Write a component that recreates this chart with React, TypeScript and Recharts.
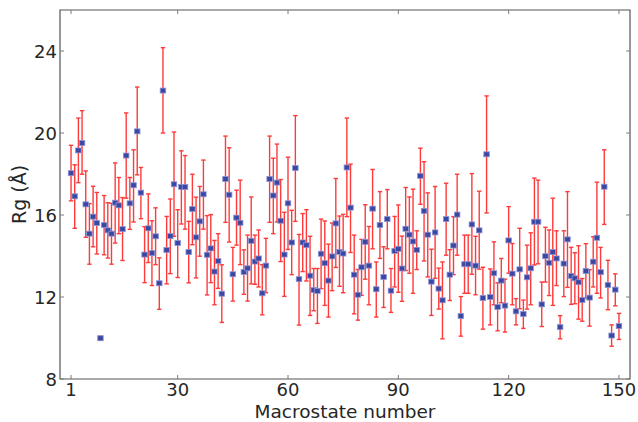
import { ScatterChart, Scatter, XAxis, YAxis, ErrorBar, ReferenceArea } from 'recharts'

// Rg per macrostate with the upper / lower ends of each error bar
const rg = [
  18.04, 16.91, 19.15, 19.51, 16.52, 15.09, 15.92, 15.61, 9.99, 15.51,
  15.25, 15.09, 16.6, 16.47, 15.31, 18.9, 16.57, 17.45, 20.08, 17.09,
  14.07, 15.35, 14.14, 14.96, 12.67, 22.07, 14.29, 14.97, 17.5, 14.63,
  17.37, 17.37, 14.19, 16.29, 14.91, 15.69, 17.01, 14.06, 14.37, 13.24,
  13.75, 12.16, 17.76, 16.99, 13.11, 15.87, 15.62, 13.22, 13.4, 14.74,
  13.73, 13.88, 12.18, 13.53, 17.76, 16.95, 17.58, 15.72, 14.07, 16.57,
  14.66, 18.29, 12.87, 14.66, 14.53, 13.04, 12.34, 12.29, 14.11, 13.65,
  12.8, 13.98, 15.59, 14.2, 14.12, 18.32, 16.36, 13.09, 12.11, 13.45,
  14.69, 13.53, 16.31, 12.38, 15.51, 12.98, 15.8, 12.31, 14.25, 14.35,
  13.39, 15.33, 15.04, 14.71, 14.3, 17.91, 16.2, 15.04, 12.75, 15.15,
  12.41, 11.84, 15.8, 13.09, 14.51, 16.02, 11.07, 13.6, 13.6, 15.54,
  13.53, 15.25, 11.95, 18.96, 12.0, 13.16, 11.51, 12.8, 11.58, 14.76,
  13.14, 11.3, 13.35, 11.17, 12.96, 13.4, 15.67, 15.67, 11.64, 13.99,
  13.67, 14.19, 13.88, 10.53, 13.63, 14.81, 13.03, 12.91, 12.72, 11.85,
  13.27, 11.97, 13.72, 14.89, 13.21, 17.38, 12.59, 10.12, 12.36, 10.58,
]

const rgHigh = [
  19.4, 18.45, 20.73, 21.09, 18.15, 16.56, 17.4, 17.1, 10.08, 16.95,
  16.6, 16.57, 18.54, 17.83, 16.85, 20.98, 17.83, 19.18, 22.24, 18.32,
  15.43, 17.03, 15.72, 16.35, 13.91, 24.16, 15.93, 16.78, 20.05, 16.26,
  19.13, 18.9, 15.69, 17.99, 16.87, 17.39, 18.68, 15.97, 16.02, 14.76,
  15.09, 13.57, 19.85, 19.28, 14.42, 17.21, 17.7, 14.3, 15.02, 16.88,
  15.02, 15.27, 13.58, 14.86, 19.85, 18.77, 19.46, 17.73, 16.13, 18.82,
  16.23, 20.85, 15.05, 16.07, 16.26, 14.96, 13.39, 13.39, 15.8, 15.71,
  14.58, 15.61, 17.78, 15.95, 16.03, 20.73, 18.48, 15.02, 13.34, 14.81,
  16.5, 15.44, 18.22, 13.71, 17.14, 14.45, 17.24, 13.39, 15.93, 16.49,
  14.97, 17.34, 16.88, 17.26, 15.23, 19.26, 18.6, 17.08, 14.33, 17.39,
  13.41, 13.71, 17.55, 14.31, 15.92, 17.99, 12.02, 15.02, 15.02, 18.02,
  14.96, 17.16, 13.45, 21.81, 13.37, 14.69, 12.69, 13.88, 12.87, 16.41,
  14.61, 11.92, 15.35, 11.85, 14.53, 15.13, 17.8, 17.7, 12.73, 15.4,
  15.27, 16.82, 15.23, 11.09, 15.23, 17.14, 14.42, 14.16, 14.5, 12.9,
  14.6, 13.33, 14.94, 17.6, 14.42, 19.18, 13.79, 10.64, 13.13, 11.2,
]

const rgLow = [
  16.69, 15.35, 17.58, 17.99, 14.91, 13.6, 14.45, 14.1, 9.9, 14.06,
  13.9, 13.6, 14.63, 15.09, 13.78, 16.82, 15.3, 15.66, 17.96, 15.82,
  12.7, 13.68, 12.56, 13.58, 11.4, 20.0, 12.64, 13.14, 14.96, 12.95,
  15.56, 15.31, 12.69, 14.55, 12.93, 13.99, 15.31, 12.1, 12.7, 11.62,
  12.42, 10.76, 15.64, 14.68, 11.8, 14.53, 13.58, 12.13, 11.8, 12.64,
  12.62, 12.49, 11.13, 12.21, 15.64, 15.09, 15.66, 13.73, 12.03, 14.32,
  13.09, 15.69, 10.63, 13.24, 12.78, 11.1, 11.33, 10.71, 12.41, 11.59,
  11.02, 12.31, 13.44, 12.52, 12.21, 15.92, 14.17, 11.18, 10.87, 12.08,
  12.87, 11.62, 14.35, 11.02, 13.88, 11.49, 14.35, 11.25, 12.49, 12.23,
  11.79, 13.29, 13.16, 12.18, 13.34, 16.52, 13.76, 12.98, 11.1, 12.91,
  11.41, 9.96, 14.04, 11.83, 13.09, 14.04, 10.09, 12.18, 12.18, 13.11,
  12.11, 13.36, 10.43, 16.1, 10.64, 11.62, 10.35, 11.72, 10.29, 13.16,
  11.62, 10.64, 11.43, 10.47, 11.41, 11.62, 13.56, 13.62, 10.56, 12.73,
  12.07, 11.59, 12.56, 9.96, 12.02, 12.47, 11.64, 11.67, 10.92, 10.82,
  11.95, 10.58, 12.49, 12.18, 11.95, 15.54, 11.38, 9.6, 11.57, 9.93,
]

const xTicks = [1, 30, 60, 90, 120, 150]
const yTicks = [8, 12, 16, 20, 24]

const data = rg.map((v, i) => ({ state: i + 1, rg: v, hi: rgHigh[i], lo: rgLow[i] }))

const W = 638
const H = 422
const LEFT = 60
const RIGHT = 630
const TOP = 10
const BOTTOM = 379
const FONT = '"DejaVu Sans", sans-serif'
const TEXT = '#262626'
const TICK = '#7a7a7a'

function XTick({ x, payload }: any) {
  return (
    <g>
      <line x1={x} x2={x} y1={BOTTOM} y2={BOTTOM - 4} stroke={TICK} />
      <line x1={x} x2={x} y1={TOP} y2={TOP + 4} stroke={TICK} />
      <text x={x} y={BOTTOM + 17} textAnchor="middle" fontSize={18} fill={TEXT} fontFamily={FONT}>
        {payload.value}
      </text>
    </g>
  )
}

function YTick({ y, payload }: any) {
  return (
    <g>
      <line x1={LEFT} x2={LEFT + 4} y1={y} y2={y} stroke={TICK} />
      <line x1={RIGHT - 4} x2={RIGHT} y1={y} y2={y} stroke={TICK} />
      <text x={LEFT - 3} y={y} textAnchor="end" dominantBaseline="central" fontSize={18} fill={TEXT} fontFamily={FONT}>
        {payload.value}
      </text>
    </g>
  )
}

function Square({ cx, cy }: any) {
  return <rect x={cx - 2.75} y={cy - 2.5} width={5.5} height={5} fill="#3b47a0" stroke="#8a93d6" strokeWidth={0.8} />
}

export default function App() {
  return (
    <div style={{ position: 'absolute', left: 0, top: 0, width: W, height: H, background: '#fff' }}>
      <ScatterChart width={W} height={H} margin={{ top: TOP, right: W - RIGHT, bottom: 0, left: 0 }}>
        <XAxis
          type="number"
          dataKey="state"
          domain={[-2, 153]}
          ticks={xTicks}
          interval={0}
          allowDataOverflow
          height={H - BOTTOM}
          tickSize={0}
          axisLine={false}
          tick={XTick}
          label={() => (
            <text x={(LEFT + RIGHT) / 2} y={417.5} textAnchor="middle" fontSize={18.5} fill={TEXT} fontFamily={FONT}>
              Macrostate number
            </text>
          )}
        />
        <YAxis
          type="number"
          dataKey="rg"
          domain={[8, 26]}
          ticks={yTicks}
          interval={0}
          allowDataOverflow
          width={LEFT}
          tickSize={0}
          axisLine={false}
          tick={YTick}
          label={() => (
            <text
              x={26}
              y={(TOP + BOTTOM) / 2}
              transform={`rotate(-90 26 ${(TOP + BOTTOM) / 2})`}
              textAnchor="middle"
              fontSize={19}
              fill={TEXT}
              fontFamily={FONT}
            >
              Rg (Å)
            </text>
          )}
        />
        <ReferenceArea x1={-2} x2={153} y1={8} y2={26} fill="none" stroke="#555" strokeWidth={1.2} />
        <Scatter data={data} shape={Square} isAnimationActive={false}>
          <ErrorBar
            direction="y"
            dataKey={(d: any) => [d.rg - d.lo, d.hi - d.rg]}
            stroke="#ff3a3a"
            strokeWidth={1.4}
            width={2.2}
            isAnimationActive={false}
          />
        </Scatter>
      </ScatterChart>
    </div>
  )
}
